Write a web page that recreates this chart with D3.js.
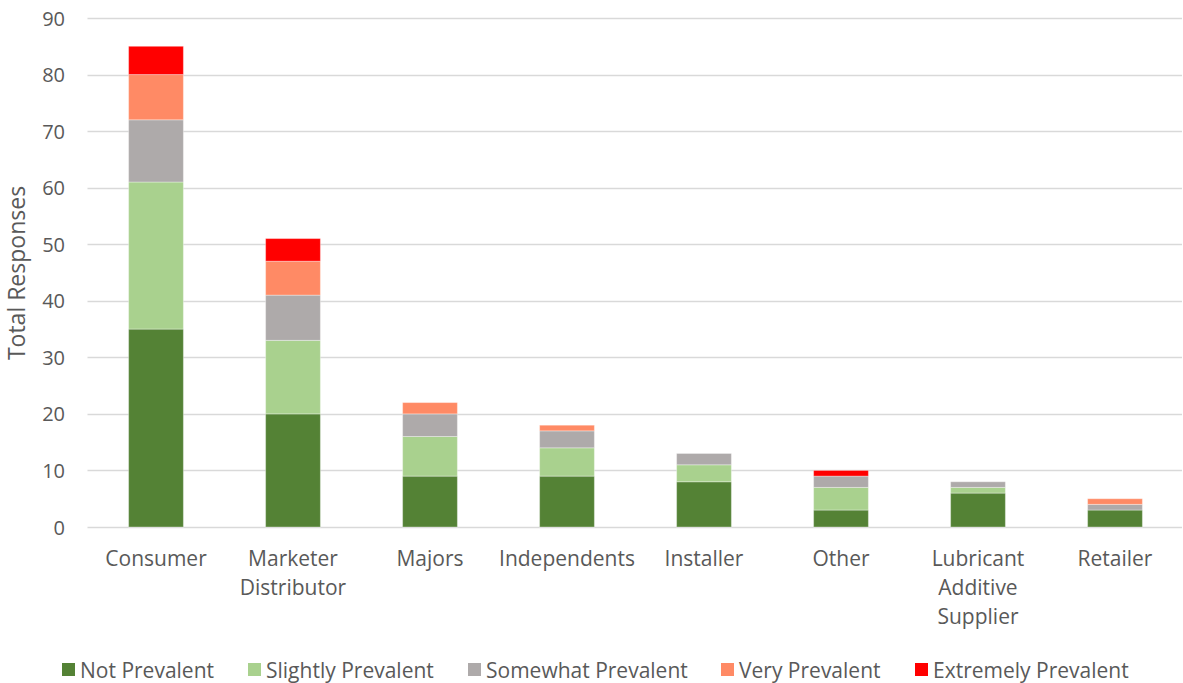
<!DOCTYPE html>
<html><head><meta charset="utf-8">
<script src="https://cdn.jsdelivr.net/npm/d3@7"></script>
<style>body{margin:0;background:#fff;} text{font-family:"Open Sans","Noto Sans",sans-serif;fill:#595959;}</style>
</head><body>
<svg id="c" width="1183" height="683"></svg>
<script>
const categories = ["Consumer","Marketer Distributor","Majors","Independents","Installer","Other","Lubricant Additive Supplier","Retailer"];
const categoryLines = [["Consumer"],["Marketer","Distributor"],["Majors"],["Independents"],["Installer"],["Other"],["Lubricant","Additive","Supplier"],["Retailer"]];
const seriesNames = ["Not Prevalent","Slightly Prevalent","Somewhat Prevalent","Very Prevalent","Extremely Prevalent"];
const notPrevalent = [35,20,9,9,8,3,6,3];
const slightlyPrevalent = [26,13,7,5,3,4,1,0];
const somewhatPrevalent = [11,8,4,3,2,2,1,1];
const veryPrevalent = [8,6,2,1,0,0,0,1];
const extremelyPrevalent = [5,4,0,0,0,1,0,0];
const yTicks = [0,10,20,30,40,50,60,70,80,90];
const colors = ["#548235","#A9D18E","#AEAAAA","#FF8A65","#FF0000"];

const seriesVals = [notPrevalent,slightlyPrevalent,somewhatPrevalent,veryPrevalent,extremelyPrevalent];
const table = categories.map((c,i)=>{const o={cat:c}; seriesNames.forEach((s,j)=>o[s]=seriesVals[j][i]); return o;});
const stack = d3.stack().keys(seriesNames)(table);

const svg = d3.select("#c");
const pLeft=87.5, pRight=1183.5, pTop=18, pBottom=527;
const x = d3.scaleBand().domain(categories).range([pLeft,pRight]).paddingInner(0.6).paddingOuter(0.3);
const y = d3.scaleLinear().domain([0,90]).range([pBottom,pTop]);

// gridlines
svg.append("g").selectAll("line").data(yTicks).join("line")
  .attr("x1",pLeft).attr("x2",1182).attr("y1",d=>Math.round(y(d))+0.5).attr("y2",d=>Math.round(y(d))+0.5)
  .attr("stroke","#D9D9D9").attr("stroke-width",1.3);

// y labels
const yAxis = d3.axisLeft(y).tickValues(yTicks).tickSize(0).tickPadding(0);
const ga = svg.append("g").attr("transform",`translate(65,0)`).call(yAxis);
ga.select(".domain").remove();
ga.selectAll("text").style("font-size","20px").attr("fill","#595959").attr("dy","0.35em");

// bars
svg.append("g").selectAll("g").data(stack).join("g").attr("fill",(d,i)=>colors[i])
  .selectAll("rect").data(d=>d).join("rect")
  .attr("x",d=>x(d.data.cat)).attr("width",x.bandwidth())
  .attr("y",d=>y(d[1])).attr("height",d=>Math.max(0,y(d[0])-y(d[1])))
  .attr("stroke","#ffffff").attr("stroke-opacity",d=>(d[1]-d[0])>0?0.35:0).attr("stroke-width",1);

// x labels
const xl = svg.append("g");
categories.forEach((c,i)=>{
  const t = xl.append("text").attr("text-anchor","middle").attr("x",x(c)+x.bandwidth()/2).style("font-size","21px");
  categoryLines[i].forEach((ln,k)=>t.append("tspan").attr("x",x(c)+x.bandwidth()/2).attr("y",566+k*29).text(ln));
});

// axis title
svg.append("text").attr("transform","translate(25,273) rotate(-90)").attr("text-anchor","middle").style("font-size","23px").text("Total Responses");

// legend
const legX=[62,248,468,721,915];
const lg = svg.append("g");
seriesNames.forEach((s,i)=>{
  lg.append("rect").attr("x",legX[i]).attr("y",663).attr("width",13).attr("height",13).attr("fill",colors[i]);
  lg.append("text").attr("x",legX[i]+18).attr("y",678).style("font-size","21px").text(s);
});
</script>
</body></html>
